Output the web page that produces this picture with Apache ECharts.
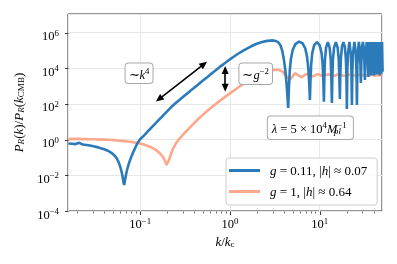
<!DOCTYPE html>
<html><head><meta charset="utf-8">
<script src="https://cdn.jsdelivr.net/npm/echarts@6/dist/echarts.min.js"></script>
<style>html,body{margin:0;padding:0;background:#fff}#c{width:397px;height:264px}</style>
</head><body><div id="c"></div>
<script>
// ---- data ----
// each point: [log10(k/k_c), log10(P_R(k)/P_R(k_CMB))]
const seriesNames = ['g = 0.11, |h| ≈ 0.07', 'g = 1, |h| ≈ 0.64'];
const blueCurve = [
[-1.80,-0.22],[-1.78,-0.26],[-1.76,-0.23],[-1.74,-0.27],[-1.72,-0.25],[-1.70,-0.22],[-1.68,-0.18],[-1.66,-0.24],
[-1.64,-0.27],[-1.62,-0.25],[-1.60,-0.30],[-1.58,-0.28],[-1.56,-0.33],[-1.54,-0.31],[-1.52,-0.37],[-1.50,-0.38],
[-1.48,-0.42],[-1.46,-0.44],[-1.44,-0.48],[-1.42,-0.50],[-1.40,-0.54],[-1.38,-0.58],[-1.36,-0.62],[-1.34,-0.68],
[-1.32,-0.74],[-1.30,-0.82],[-1.28,-0.92],[-1.26,-1.06],[-1.24,-1.26],[-1.22,-1.55],[-1.20,-1.95],[-1.185,-2.40],
[-1.178,-2.54],[-1.17,-2.30],[-1.155,-1.90],[-1.14,-1.58],[-1.12,-1.25],[-1.10,-0.98],[-1.08,-0.74],[-1.06,-0.52],
[-1.04,-0.30],[-1.02,-0.12],[-1.00,0.02],[-0.95,0.27],[-0.90,0.54],[-0.85,0.80],[-0.80,1.06],[-0.75,1.32],
[-0.70,1.58],[-0.65,1.84],[-0.60,2.07],[-0.55,2.28],[-0.50,2.49],[-0.45,2.69],[-0.40,2.90],[-0.35,3.10],
[-0.30,3.31],[-0.25,3.51],[-0.20,3.72],[-0.15,3.92],[-0.10,4.12],[-0.05,4.31],[0.00,4.50],[0.05,4.67],
[0.10,4.84],[0.15,4.99],[0.20,5.13],[0.25,5.26],[0.30,5.37],[0.35,5.46],[0.40,5.52],[0.45,5.55],
[0.48,5.56],[0.51,5.53],[0.54,5.45],[0.565,5.28],[0.585,4.95],[0.60,4.55],[0.615,4.00],[0.63,3.25],[0.642,2.40],[0.65,1.77],
[0.658,2.90],[0.668,3.90],[0.68,4.50],[0.70,5.02],[0.73,5.35],[0.77,5.49],[0.81,5.40],[0.84,5.12],[0.86,4.65],[0.875,3.95],[0.885,3.10],[0.892,2.22],
[0.898,3.30],[0.906,4.20],[0.918,4.85],[0.94,5.30],[0.97,5.46],[1.00,5.30],[1.022,4.85],[1.034,4.20],[1.042,3.30],[1.048,2.13],
[1.053,3.50],[1.060,4.50],[1.072,5.15],[1.092,5.47],[1.112,5.15],[1.124,4.50],[1.131,3.50],[1.137,2.05],
[1.142,3.50],[1.149,4.50],[1.161,5.15],[1.181,5.47],[1.201,5.15],[1.213,4.50],[1.220,3.50],[1.226,2.28],
[1.231,3.70],[1.238,4.60],[1.249,5.20],[1.265,5.47],[1.281,5.20],[1.292,4.60],[1.299,3.70],[1.304,1.72],
[1.309,3.80],[1.316,4.80],[1.332,5.47],[1.348,4.80],[1.355,3.80],[1.360,1.94],
[1.365,3.80],[1.372,4.80],[1.388,5.47],[1.404,4.80],[1.411,3.80],[1.416,1.94],
[1.421,4.20],[1.430,5.10],[1.438,5.47],[1.447,5.10],[1.455,4.20],[1.460,3.17],
[1.466,4.40],[1.474,5.20],[1.482,5.47],[1.491,5.20],[1.499,4.40],[1.505,3.34],
[1.512,4.60],[1.525,5.47],[1.537,4.60],[1.544,3.51],
[1.552,5.47],[1.560,3.70],[1.568,5.47],[1.576,3.60],[1.584,5.47],[1.592,3.75],[1.600,5.47],[1.608,3.60],
[1.616,5.47],[1.624,3.70],[1.632,5.47],[1.640,3.65],[1.648,5.47],[1.656,3.70],[1.664,5.47],[1.672,3.60],
[1.680,5.47],[1.688,3.70],[1.696,5.47],[1.702,3.80]
];
const salmonCurve = [
[-1.80,0.03],[-1.78,0.06],[-1.76,0.04],[-1.74,0.08],[-1.72,0.05],[-1.70,0.07],[-1.68,0.04],[-1.66,0.06],
[-1.64,0.03],[-1.62,0.05],[-1.60,0.03],[-1.58,0.05],[-1.56,0.02],[-1.54,0.04],[-1.52,0.02],[-1.50,0.03],
[-1.47,0.01],[-1.44,0.02],[-1.41,0.00],[-1.38,0.00],[-1.35,-0.01],[-1.32,-0.02],[-1.29,-0.03],[-1.26,-0.04],
[-1.23,-0.06],[-1.20,-0.07],[-1.16,-0.09],[-1.12,-0.12],[-1.08,-0.15],[-1.04,-0.18],[-1.00,-0.22],[-0.96,-0.27],
[-0.92,-0.34],[-0.88,-0.42],[-0.84,-0.53],[-0.80,-0.67],[-0.77,-0.82],[-0.74,-1.02],[-0.72,-1.22],[-0.705,-1.42],
[-0.698,-1.52],[-0.69,-1.38],[-0.675,-1.10],[-0.66,-0.85],[-0.64,-0.58],[-0.62,-0.38],[-0.60,-0.20],[-0.58,-0.06],
[-0.56,0.06],[-0.53,0.24],[-0.50,0.40],[-0.45,0.66],[-0.40,0.92],[-0.35,1.17],[-0.30,1.40],[-0.25,1.62],
[-0.20,1.83],[-0.15,2.03],[-0.10,2.22],[-0.05,2.41],[0.00,2.59],[0.05,2.77],[0.10,2.95],[0.15,3.12],
[0.20,3.28],[0.25,3.44],[0.30,3.58],[0.35,3.70],[0.40,3.80],[0.45,3.87],[0.50,3.91],[0.55,3.90],
[0.59,3.80],[0.63,3.55],[0.67,3.38],[0.70,3.55],[0.725,3.72],[0.76,3.62],[0.80,3.50],[0.835,3.62],
[0.87,3.69],[0.90,3.60],[0.925,3.54],[0.955,3.62],[0.985,3.67],[1.015,3.60],[1.045,3.56],[1.075,3.63],
[1.105,3.66],[1.135,3.59],[1.165,3.57],[1.195,3.64],[1.225,3.65],[1.255,3.59],[1.285,3.58],[1.315,3.64],
[1.345,3.64],[1.375,3.60],[1.405,3.59],[1.435,3.63],[1.465,3.63],[1.495,3.60],[1.525,3.60],[1.555,3.63],
[1.585,3.62],[1.615,3.60],[1.645,3.61],[1.675,3.63],[1.702,3.61]
];
// axis ranges and ticks
const xRange = [0.0157, 49.6];
const yRange = [-4, 7.04];
const xMajorTicks = [0.1, 1, 10];
const xMinorTicks = [0.02,0.03,0.04,0.05,0.06,0.07,0.08,0.09,0.2,0.3,0.4,0.5,0.6,0.7,0.8,0.9,2,3,4,5,6,7,8,9,20,30,40];
const yTickExps = [-4, -2, 0, 2, 4, 6];
// annotations: [k, log10 P]
const annotK4Box = [0.0972, 3.72];
const annotG2Box = [1.94, 3.69];
const annotLambdaBox = [7.89, 0.67];
const arrowK4 = [[0.1625, 2.27], [0.514, 4.23]];
const arrowG2 = [[0.8864, 3.90], [0.8864, 2.91]];

// ---- styles ----
const F = "'Liberation Serif','Times New Roman',serif";
function rich(size) {
  const sm = Math.round(size * 0.7 * 10) / 10;
  const lh = size + 2;
  return {
    n: {fontFamily: F, fontSize: size, lineHeight: lh, verticalAlign: 'bottom', color: '#000'},
    i: {fontFamily: F, fontSize: size, fontStyle: 'italic', lineHeight: lh, verticalAlign: 'bottom', color: '#000'},
    sup: {fontFamily: F, fontSize: sm, lineHeight: 1, verticalAlign: 'top', color: '#000'},
    sub: {fontFamily: F, fontSize: sm, lineHeight: 6, verticalAlign: 'bottom', color: '#000'},
    isub: {fontFamily: F, fontSize: sm, fontStyle: 'italic', lineHeight: 6, verticalAlign: 'bottom', color: '#000'},
    isubz: {fontFamily: F, fontSize: sm, fontStyle: 'italic', lineHeight: 6, verticalAlign: 'bottom', color: '#000', width: 0.01, align: 'left'}
  };
}
const MINUS = '\u2212';
const expStr = e => (e < 0 ? MINUS + Math.abs(e) : String(e));
const BLUE = '#2b7bba', SALMON = '#fba88b';
const legendRich = {};
legendRich[seriesNames[0]] = '{i|g}{n| = 0.11, |}{i|h}{n|| ≈ 0.07}';
legendRich[seriesNames[1]] = '{i|g}{n| = 1, |}{i|h}{n|| ≈ 0.64}';

const toData = c => c.map(p => [Math.pow(10, p[0]), p[1]]);
const tickData = []
  .concat(xMajorTicks.map(k => [k, yRange[0], 0]))
  .concat(xMinorTicks.map(k => [k, yRange[0], 1]))
  .concat(yTickExps.map(e => [xRange[0], e, 2]));

const boxLabel = (txt, pad) => ({
  show: true, position: 'inside', formatter: txt,
  backgroundColor: '#fff', borderColor: '#a8a8a8', borderWidth: 1, borderRadius: 3,
  padding: pad, rich: rich(12.5)
});

const chart = echarts.init(document.getElementById('c'), null, {renderer: 'canvas'});
chart.setOption({
  animation: false,
  grid: {left: 68, right: 15, top: 14, bottom: 53, show: true, borderColor: '#2a2a2a', borderWidth: 1, backgroundColor: 'transparent'},
  xAxis: {
    type: 'log', logBase: 10, min: xRange[0], max: xRange[1],
    axisLine: {show: false}, axisTick: {show: false},
    splitLine: {show: true, lineStyle: {color: '#e8e8e8', width: 1}},
    axisLabel: {
      showMinLabel: false, showMaxLabel: false, margin: 6,
      formatter: v => {
        const e = Math.log10(v);
        if (Math.abs(e - Math.round(e)) > 1e-6) return '';
        return '{n|10}{sup|' + expStr(Math.round(e)) + '}';
      },
      rich: rich(12.5)
    },
    name: '{i|k}{n|/}{i|k}{sub|c}', nameLocation: 'middle', nameGap: 22,
    nameTextStyle: {rich: rich(13)}
  },
  yAxis: {
    type: 'value', min: yRange[0], max: yRange[1], interval: 2,
    axisLine: {show: false}, axisTick: {show: false},
    splitLine: {show: true, lineStyle: {color: '#e8e8e8', width: 1}},
    axisLabel: {
      showMaxLabel: false, margin: 9, padding: [7, 0, 0, 0],
      formatter: v => (Math.abs(v - Math.round(v)) > 1e-6 ? '' : '{n|10}{sup|' + expStr(Math.round(v)) + '}'),
      rich: rich(12.5)
    },
    name: '{i|P}{isub|R}{n|(}{i|k}{n|)/}{i|P}{isub|R}{n|(}{i|k}{sub|CMB}{n|)}',
    nameLocation: 'middle', nameRotate: 90, nameGap: 38,
    nameTextStyle: {rich: rich(13)}
  },
  legend: {
    data: seriesNames, orient: 'vertical', left: 226, top: 158,
    itemWidth: 31, itemHeight: 3, itemGap: 8, icon: 'rect',
    padding: [7, 10, 6, 3],
    backgroundColor: 'rgba(255,255,255,0.85)', borderColor: '#cccccc', borderWidth: 1, borderRadius: 3,
    formatter: name => legendRich[name],
    textStyle: {padding: [0, 0, 0, 5], rich: rich(13)}
  },
  series: [
    {
      name: seriesNames[0], type: 'line', data: toData(blueCurve), showSymbol: false, symbol: 'none',
      lineStyle: {color: BLUE, width: 2.6}, itemStyle: {color: BLUE}, z: 3, silent: true,
      markPoint: {
        silent: true, symbol: 'rect', symbolSize: 0, z: 6,
        data: [
          {coord: annotK4Box, label: boxLabel('{n|∼}{i|k}{sup|4}', [4, 3, 1, 3])},
          {coord: annotG2Box, label: boxLabel('{n|∼}{i|g}{sup|' + MINUS + '2}', [4, 3, 2, 3])},
          {coord: annotLambdaBox, label: boxLabel('{i|λ}{n| = 5 × 10}{sup|4}{i|M}{isubz|pl}{sup|' + MINUS + '1}{n| }', [5, 3, 3, 4])}
        ]
      },
      markLine: {
        silent: true, symbol: ['triangle', 'triangle'], symbolSize: [7, 8], z: 6,
        label: {show: false}, emphasis: {disabled: true},
        lineStyle: {color: '#000', width: 1.6, type: 'solid'},
        data: [
          [{coord: arrowK4[0]}, {coord: arrowK4[1]}],
          [{coord: arrowG2[0]}, {coord: arrowG2[1]}]
        ]
      }
    },
    {
      name: seriesNames[1], type: 'line', data: toData(salmonCurve), showSymbol: false, symbol: 'none',
      lineStyle: {color: SALMON, width: 2.6}, itemStyle: {color: SALMON}, z: 2, silent: true
    },
    {
      type: 'custom', clip: false, silent: true, z: 5, data: tickData,
      renderItem: (params, api) => {
        const kind = api.value(2);
        const p = api.coord([api.value(0), api.value(1)]);
        const x = Math.round(p[0]) + 0.5, y = Math.round(p[1]) + 0.5;
        let shape;
        if (kind === 2) shape = {x1: x, y1: y, x2: x - 3.5, y2: y};
        else shape = {x1: x, y1: y, x2: x, y2: y + (kind === 0 ? 3.5 : 2)};
        return {type: 'line', shape: shape, style: {stroke: '#2a2a2a', lineWidth: kind === 1 ? 0.7 : 0.9}};
      }
    }
  ]
});
</script></body></html>
